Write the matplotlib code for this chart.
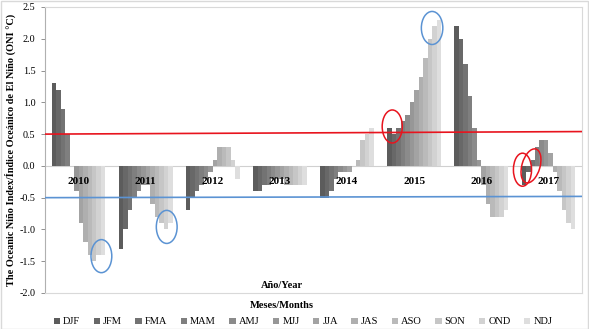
import matplotlib
matplotlib.use("Agg")
import matplotlib.pyplot as plt
from matplotlib.patches import Ellipse, Rectangle, Patch
import numpy as np

seasons = ['DJF', 'JFM', 'FMA', 'MAM', 'AMJ', 'MJJ', 'JJA', 'JAS', 'ASO', 'SON', 'OND', 'NDJ']
years = ['2010', '2011', '2012', '2013', '2014', '2015', '2016', '2017']

oni_2010 = [1.3, 1.2, 0.9, 0.5, 0.0, -0.4, -0.9, -1.2, -1.4, -1.5, -1.4, -1.4]
oni_2011 = [-1.3, -1.0, -0.7, -0.5, -0.4, -0.3, -0.3, -0.6, -0.8, -0.9, -1.0, -0.9]
oni_2012 = [-0.7, -0.5, -0.4, -0.3, -0.2, -0.1, 0.1, 0.3, 0.3, 0.3, 0.1, -0.2]
oni_2013 = [-0.4, -0.4, -0.3, -0.3, -0.2, -0.2, -0.2, -0.3, -0.3, -0.3, -0.3, -0.3]
oni_2014 = [-0.5, -0.5, -0.4, -0.2, -0.1, -0.1, -0.1, 0.0, 0.1, 0.4, 0.5, 0.6]
oni_2015 = [0.6, 0.5, 0.6, 0.7, 0.8, 1.0, 1.2, 1.4, 1.7, 2.0, 2.2, 2.3]
oni_2016 = [2.2, 2.0, 1.6, 1.1, 0.6, 0.1, -0.3, -0.6, -0.8, -0.8, -0.8, -0.7]
oni_2017 = [-0.3, -0.1, 0.1, 0.3, 0.4, 0.4, 0.2, -0.1, -0.4, -0.7, -0.9, -1.0]

# threshold lines (left end, right end)
el_nino_line = [0.50, 0.54]
la_nina_line = [-0.50, -0.48]

yticks = [-2.0, -1.5, -1.0, -0.5, 0.0, 0.5, 1.0, 1.5, 2.0, 2.5]

data = np.array([oni_2010, oni_2011, oni_2012, oni_2013,
                 oni_2014, oni_2015, oni_2016, oni_2017])

SERIF = ['Liberation Serif', 'DejaVu Serif']
plt.rcParams['font.family'] = SERIF

W, H = 589, 329
fig = plt.figure(figsize=(W / 100, H / 100), dpi=100)
ax = fig.add_axes([45 / W, 36 / H, 537 / W, 286 / H])

grays = np.linspace(0.36, 0.87, 12)
colors = [(g, g, g) for g in grays]

group_w = 0.8
bw = group_w / 12
xg = np.arange(len(years))


def bar_x(yi, mi):
    return xg[yi] - group_w / 2 + (mi + 0.5) * bw


for mi, s in enumerate(seasons):
    ax.bar(bar_x(np.arange(len(years)), mi), data[:, mi], width=bw,
           color=colors[mi], edgecolor='none', label=s, zorder=2)

ax.set_xlim(-0.5, len(years) - 0.5)
ax.set_ylim(-2.0, 2.5)
ax.set_yticks(yticks)
ax.set_yticklabels([f'{v:.1f}' for v in yticks], fontsize=7.3)
ax.set_xticks([])
ax.tick_params(axis='y', direction='out', length=3, width=0.6, color='#808080', pad=4)

for sp in ['top', 'right', 'bottom']:
    ax.spines[sp].set_color('#d9d9d9')
    ax.spines[sp].set_linewidth(0.8)
ax.spines['left'].set_color('#b0b0b0')
ax.spines['left'].set_linewidth(0.8)

ax.axhline(0, color='#d0d0d0', lw=0.8, zorder=1)

ax.plot([-0.5, len(years) - 0.5], el_nino_line, color='#e8141e', lw=1.2, zorder=4)
ax.plot([-0.5, len(years) - 0.5], la_nina_line, color='#5b93d3', lw=1.2, zorder=4)

for yi, yr in enumerate(years):
    ax.text(xg[yi], -0.24, yr, ha='center', va='center', fontsize=8,
            fontweight='bold', zorder=5)

# annotation ellipses: (year index, month position, centre value, width, height, angle, colour)
ann = [
    (0, 10.6, -1.42, 0.31, 0.52, 0, '#5b93d3'),
    (1, 10.2, -0.96, 0.31, 0.52, 0, '#5b93d3'),
    (5, 0.6, 0.62, 0.30, 0.52, 0, '#e8141e'),
    (5, 9.5, 2.17, 0.32, 0.52, 0, '#5b93d3'),
    (7, -0.3, -0.06, 0.27, 0.52, 0, '#e8141e'),
    (7, 1.6, 0.0, 0.27, 0.55, -15, '#e8141e'),
]
for yi, mpos, yc, ew, eh, ang, col in ann:
    e = Ellipse((bar_x(yi, mpos), yc), ew, eh, angle=ang, fill=False,
                edgecolor=col, lw=1.1, zorder=6)
    ax.add_patch(e)

fig.text(10 / W, 1 - 150 / H,
         'The Oceanic Niño Index/Índice Oceánico de El Niño (ONI °C)',
         rotation=90, ha='center', va='center', fontsize=7.4, fontweight='bold')
fig.text(282 / W, 1 - 285 / H, 'Año/Year', ha='center', va='center',
         fontsize=7.5, fontweight='bold')
fig.text(282 / W, 1 - 305 / H, 'Meses/Months', ha='center', va='center',
         fontsize=7.5, fontweight='bold')

handles = [Patch(facecolor=c, edgecolor='none') for c in colors]
fig.legend(handles, seasons, loc='center', bbox_to_anchor=(303 / W, 1 - 322 / H),
           ncol=12, frameon=False, fontsize=7.5, handlelength=0.6,
           handleheight=0.6, handletextpad=0.3, columnspacing=1.3,
           borderpad=0, borderaxespad=0)

fig.add_artist(Rectangle((0.5 / W, 0.5 / H), 1 - 1.5 / W, 1 - 1.5 / H,
                         transform=fig.transFigure, fill=False,
                         edgecolor='#d9d9d9', lw=1))

fig.savefig('out.png', dpi=100)
